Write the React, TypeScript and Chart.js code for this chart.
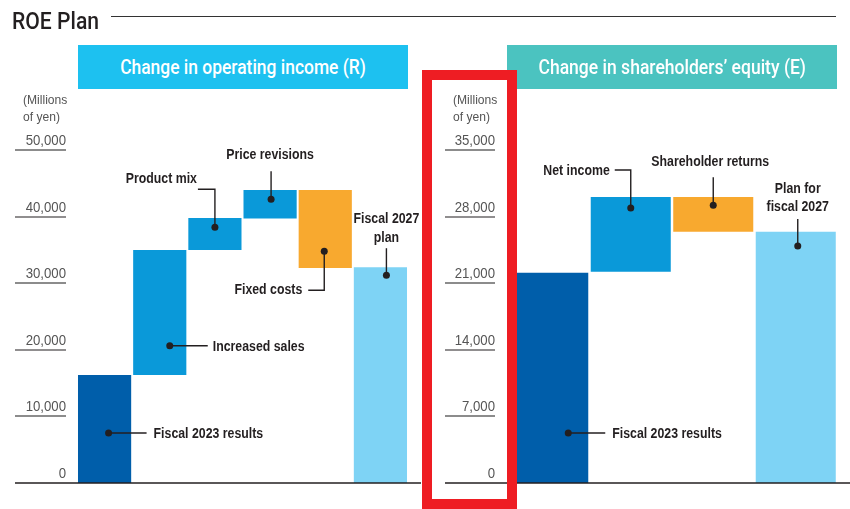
import React, { useEffect, useRef } from 'react';
import { Chart, registerables } from 'chart.js';

Chart.register(...registerables);

// ---------- DATA ----------
const leftCategories = ['Fiscal 2023 results', 'Increased sales', 'Product mix', 'Price revisions', 'Fixed costs', 'Fiscal 2027 plan'];
const leftBase = [0, 16200, 35000, 39700, 32300, 0];
const leftTop = [16200, 35000, 39800, 44000, 44000, 32400];
const leftTicks = [0, 10000, 20000, 30000, 40000, 50000];

const rightCategories = ['Fiscal 2023 results', 'Net income', 'Shareholder returns', 'Plan for fiscal 2027'];
const rightBase = [0, 22200, 26400, 0];
const rightTop = [22100, 30050, 30050, 26400];
const rightTicks = [0, 7000, 14000, 21000, 28000, 35000];

// ---------- STYLE ----------
const DARK = '#005EAA';
const MID = '#0A99D9';
const ORANGE = '#F8A92F';
const LIGHT = '#7ED3F5';
const INK = '#231F20';
const leftColors = [DARK, MID, MID, MID, ORANGE, LIGHT];
const rightColors = [DARK, MID, ORANGE, LIGHT];

type Callout = {
  i: number; v: number; dx: number;
  path: [number, number][];
  text: string[]; tx: number; ty: number; align: CanvasTextAlign; lh?: number;
};

const leftCallouts: Callout[] = [
  { i: 0, v: 7500, dx: 4, path: [[38, 0]], text: ['Fiscal 2023 results'], tx: 45, ty: 0, align: 'left' },
  { i: 1, v: 20600, dx: 10, path: [[38, 0]], text: ['Increased sales'], tx: 43, ty: 0, align: 'left' },
  { i: 2, v: 38400, dx: 0, path: [[0, -38], [-17, -38]], text: ['Product mix'], tx: -18, ty: -49, align: 'right' },
  { i: 3, v: 42600, dx: 1, path: [[0, -28]], text: ['Price revisions'], tx: -1, ty: -45, align: 'center' },
  { i: 4, v: 34800, dx: -1, path: [[0, 39], [-16, 39]], text: ['Fixed costs'], tx: -22, ty: 38, align: 'right' },
  { i: 5, v: 31200, dx: 6, path: [[0, -27]], text: ['Fiscal 2027', 'plan'], tx: 0, ty: -57, align: 'center', lh: 19 },
];

const rightCallouts: Callout[] = [
  { i: 0, v: 5250, dx: 20, path: [[37, 0]], text: ['Fiscal 2023 results'], tx: 44, ty: 0, align: 'left' },
  { i: 1, v: 28900, dx: 0, path: [[0, -38], [-16, -38]], text: ['Net income'], tx: -21, ty: -38, align: 'right' },
  { i: 2, v: 29200, dx: 0, path: [[0, -28]], text: ['Shareholder returns'], tx: -3, ty: -44, align: 'center' },
  { i: 3, v: 24900, dx: 2, path: [[0, -27]], text: ['Plan for', 'fiscal 2027'], tx: 0, ty: -58, align: 'center', lh: 18 },
];

function drawText(ctx: CanvasRenderingContext2D, s: string, x: number, y: number, align: CanvasTextAlign, font: string, color: string, sx: number) {
  ctx.save();
  ctx.translate(x, y);
  ctx.scale(sx, 1);
  ctx.font = font;
  ctx.fillStyle = color;
  ctx.textAlign = align;
  ctx.textBaseline = 'alphabetic';
  ctx.fillText(s, 0, 0);
  ctx.restore();
}

type PanelProps = {
  left: number; width: number;
  padding: { left: number; right: number; top: number; bottom: number };
  categories: string[]; base: number[]; top: number[]; colors: string[]; ticks: number[];
  tickX0: number; tickX1: number; baseX0: number; baseX1: number; unitX: number;
  callouts: Callout[]; barPct: number;
};

function Panel(p: PanelProps) {
  const ref = useRef<HTMLCanvasElement>(null);
  useEffect(() => {
    const decor = {
      id: 'decor',
      afterDatasetsDraw(chart: any) {
        const ctx: CanvasRenderingContext2D = chart.ctx;
        const ys = chart.scales.y;
        const xs = chart.scales.x;
        ctx.save();
        // tick marks and labels
        p.ticks.forEach((t, k) => {
          const py = Math.round(ys.getPixelForValue(t));
          if (t !== 0) {
            ctx.beginPath();
            ctx.strokeStyle = k % 2 === 1 ? '#8C8C8C' : INK;
            ctx.lineWidth = k % 2 === 1 ? 2 : 1.2;
            ctx.moveTo(p.tickX0, py);
            ctx.lineTo(p.tickX1, py);
            ctx.stroke();
          }
          drawText(ctx, t.toLocaleString('en-US'), p.tickX1, py - 5, 'right', '15px "Liberation Sans"', '#555555', 0.88);
        });
        // baseline
        const y0 = Math.round(ys.getPixelForValue(0));
        ctx.beginPath();
        ctx.strokeStyle = INK;
        ctx.lineWidth = 1.3;
        ctx.moveTo(p.baseX0, y0);
        ctx.lineTo(p.baseX1, y0);
        ctx.stroke();
        // unit label
        drawText(ctx, '(Millions', p.unitX, 104, 'left', '13px "Liberation Sans"', '#555555', 0.93);
        drawText(ctx, 'of yen)', p.unitX, 121, 'left', '13px "Liberation Sans"', '#555555', 0.93);
        // callouts
        p.callouts.forEach((c) => {
          const cx = xs.getPixelForValue(c.i) + c.dx;
          const cy = ys.getPixelForValue(c.v);
          ctx.beginPath();
          ctx.strokeStyle = INK;
          ctx.lineWidth = 1.4;
          ctx.moveTo(cx, cy);
          c.path.forEach(([dx, dy]) => ctx.lineTo(cx + dx, cy + dy));
          ctx.stroke();
          ctx.beginPath();
          ctx.fillStyle = INK;
          ctx.arc(cx, cy, 3.5, 0, Math.PI * 2);
          ctx.fill();
          const lh = c.lh ?? 18;
          c.text.forEach((s, j) => {
            drawText(ctx, s, cx + c.tx, cy + c.ty + j * lh + 5, c.align, 'bold 14px "Liberation Sans"', INK, 0.88);
          });
        });
        ctx.restore();
      },
    };
    const chart = new Chart(ref.current as HTMLCanvasElement, {
      type: 'bar',
      data: {
        labels: p.categories,
        datasets: [{
          data: p.base.map((b, i) => [b, p.top[i]]) as any,
          backgroundColor: p.colors,
          borderWidth: 0,
          categoryPercentage: 1,
          barPercentage: p.barPct,
        }],
      },
      options: {
        animation: false,
        responsive: false,
        maintainAspectRatio: false,
        layout: { padding: p.padding },
        plugins: { legend: { display: false }, tooltip: { enabled: false } },
        scales: {
          x: { display: false, offset: true },
          y: { display: false, min: 0, max: p.ticks[p.ticks.length - 1] },
        },
      },
      plugins: [decor],
    });
    return () => chart.destroy();
  }, []);
  return <canvas ref={ref} width={p.width} height={509} style={{ position: 'absolute', left: p.left, top: 0, width: p.width, height: 509 }} />;
}

export default function App() {
  const headerText: React.CSSProperties = {
    display: 'inline-block',
    fontFamily: 'Roboto, "Liberation Sans", sans-serif',
    fontWeight: 500,
    fontSize: 21,
    color: '#FFFFFF',
    whiteSpace: 'nowrap',
  };
  const headerBox: React.CSSProperties = {
    position: 'absolute', top: 45, width: 330, height: 44,
    display: 'flex', alignItems: 'center', justifyContent: 'center', overflow: 'visible',
  };
  return (
    <div style={{ position: 'absolute', left: 0, top: 0, width: 850, height: 509, overflow: 'hidden', background: '#FFFFFF' }}>
      <Panel
        left={0} width={425}
        padding={{ left: 77, right: 17, top: 150, bottom: 26 }}
        categories={leftCategories} base={leftBase} top={leftTop} colors={leftColors} ticks={leftTicks}
        tickX0={15} tickX1={66} baseX0={15} baseX1={421} unitX={23}
        callouts={leftCallouts} barPct={0.964}
      />
      <Panel
        left={425} width={425}
        padding={{ left: 82, right: 13, top: 150, bottom: 26 }}
        categories={rightCategories} base={rightBase} top={rightTop} colors={rightColors} ticks={rightTicks}
        tickX0={20} tickX1={70} baseX0={20} baseX1={425} unitX={28}
        callouts={rightCallouts} barPct={0.97}
      />
      <div style={{ position: 'absolute', left: 12, top: 9, height: 24, lineHeight: '24px', whiteSpace: 'nowrap' }}>
        <span style={{ display: 'inline-block', fontFamily: 'Roboto, "Liberation Sans", sans-serif', fontWeight: 500, fontSize: 24, color: INK, transform: 'scaleX(0.88)', transformOrigin: 'left center' }}>ROE Plan</span>
      </div>
      <div style={{ position: 'absolute', left: 111, top: 16, width: 725, height: 1, background: '#333333' }} />
      <div style={{ ...headerBox, left: 78, background: '#1DC1F0' }}>
        <span style={{ ...headerText, transform: 'scaleX(0.83)' }}>Change in operating income (R)</span>
      </div>
      <div style={{ ...headerBox, left: 507, background: '#4BC3C0' }}>
        <span style={{ ...headerText, transform: 'scaleX(0.835)' }}>Change in shareholders’ equity (E)</span>
      </div>
      <div style={{ position: 'absolute', left: 422, top: 70, width: 95, height: 439, boxSizing: 'border-box', border: '10px solid #EE1D23' }} />
    </div>
  );
}
